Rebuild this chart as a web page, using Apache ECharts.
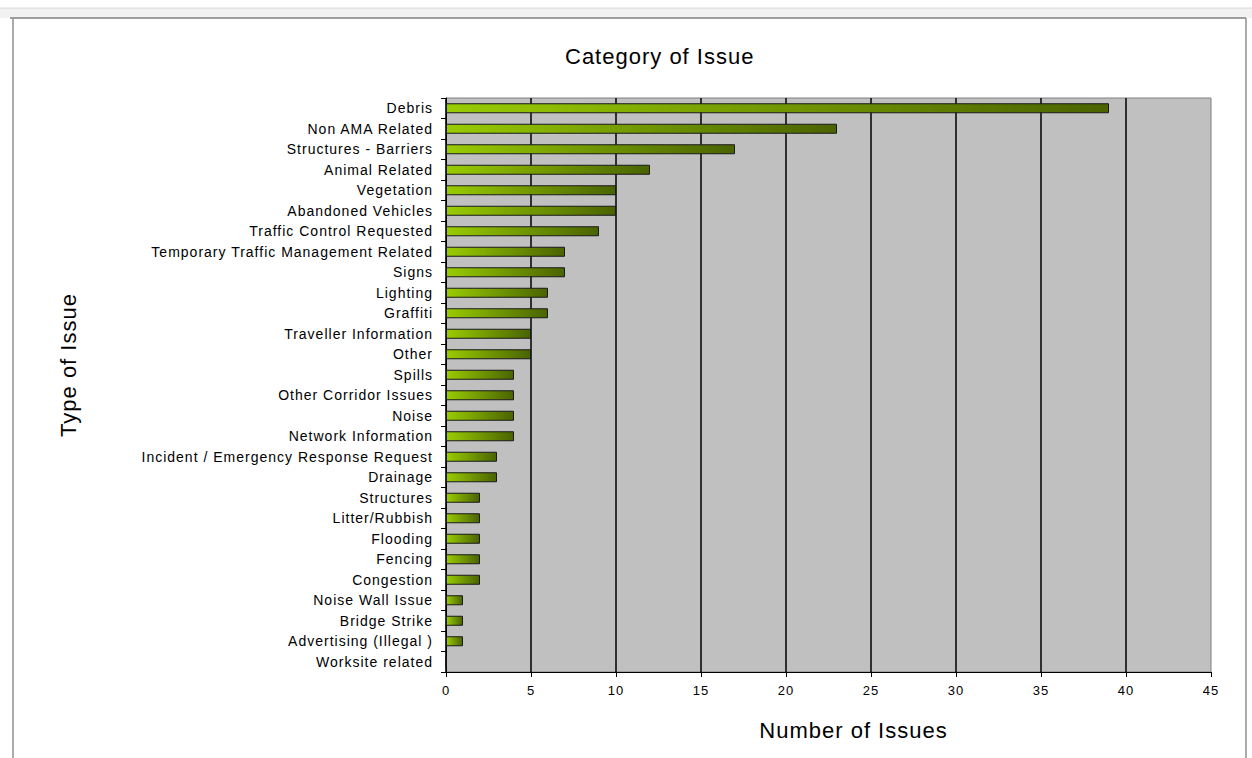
<!DOCTYPE html>
<html><head><meta charset="utf-8">
<script src="https://cdn.jsdelivr.net/npm/echarts@6/dist/echarts.min.js"></script>
<style>
html,body{margin:0;padding:0;background:#fff}
#c{width:1252px;height:758px}
#c svg text{letter-spacing:1px}
</style>
</head><body><div id="c"></div>
<script>
const categories = ["Debris","Non AMA Related","Structures - Barriers","Animal Related","Vegetation","Abandoned Vehicles","Traffic Control Requested","Temporary Traffic Management Related","Signs","Lighting","Graffiti","Traveller Information","Other","Spills","Other Corridor Issues","Noise","Network Information","Incident / Emergency Response Request","Drainage","Structures","Litter/Rubbish","Flooding","Fencing","Congestion","Noise Wall Issue","Bridge Strike","Advertising (Illegal )","Worksite related"];
const issueCounts = [39,23,17,12,10,10,9,7,7,6,6,5,5,4,4,4,4,3,3,2,2,2,2,2,1,1,1,0];
const xTicks = {min:0,max:45,interval:5};
const titleText = "Category of Issue";
const xName = "Number of Issues";
const yName = "Type of Issue";

const font = "Liberation Sans, Arial, sans-serif";
const chart = echarts.init(document.getElementById('c'), null, {renderer:'svg'});
chart.setOption({
  animation:false,
  backgroundColor:'#ffffff',
  title:{text:titleText,left:560,top:40,textStyle:{fontFamily:font,fontSize:22,fontWeight:'normal',color:'#000'}},
  grid:{left:446,right:41,top:98,bottom:86,show:true,backgroundColor:'#C0C0C0',borderColor:'#808080',borderWidth:1},
  xAxis:{type:'value',min:xTicks.min,max:xTicks.max,interval:xTicks.interval,
    name:xName,nameLocation:'middle',nameGap:47,
    nameTextStyle:{fontFamily:font,fontSize:22,color:'#000',padding:[0,0,0,50]},
    axisLine:{show:true,lineStyle:{color:'#000',width:1}},
    axisTick:{show:true,length:5,lineStyle:{color:'#000'}},
    axisLabel:{fontFamily:font,fontSize:13,color:'#000',margin:12},
    splitLine:{show:true,showMaxLine:false,lineStyle:{color:'#000',width:1.5}}},
  yAxis:{type:'category',data:categories,inverse:true,
    axisLine:{show:true,lineStyle:{color:'#000',width:1}},
    axisTick:{show:true,length:5,alignWithLabel:false,lineStyle:{color:'#000'}},
    axisLabel:{fontFamily:font,fontSize:14,color:'#000',margin:13,interval:0},
    splitLine:{show:false}},
  series:[{type:'bar',data:issueCounts,barWidth:10,
    itemStyle:{borderColor:'#1a1a1a',borderWidth:1,
      color:new echarts.graphic.LinearGradient(0,0,1,0,[{offset:0,color:'#99CC00'},{offset:1,color:'#4A6300'}])}}],
  graphic:[
    {type:'rect',shape:{x:0,y:8,width:1252,height:10},style:{fill:'#f2f2f2'},silent:true},
    {type:'line',shape:{x1:0,y1:8,x2:1252,y2:8},style:{stroke:'#d8d8d8',lineWidth:1}},
    {type:'line',shape:{x1:10,y1:18,x2:1246,y2:18},style:{stroke:'#808080',lineWidth:1.5}},
    {type:'line',shape:{x1:13,y1:18,x2:13,y2:758},style:{stroke:'#909090',lineWidth:1.5}},
    {type:'line',shape:{x1:1246,y1:18,x2:1246,y2:758},style:{stroke:'#909090',lineWidth:1.5}},
    {type:'text',x:68,y:365,rotation:Math.PI/2,style:{text:yName,fontFamily:font,fontSize:22,fill:'#000',textAlign:'center',textVerticalAlign:'middle'}}
  ]
});
</script></body></html>
